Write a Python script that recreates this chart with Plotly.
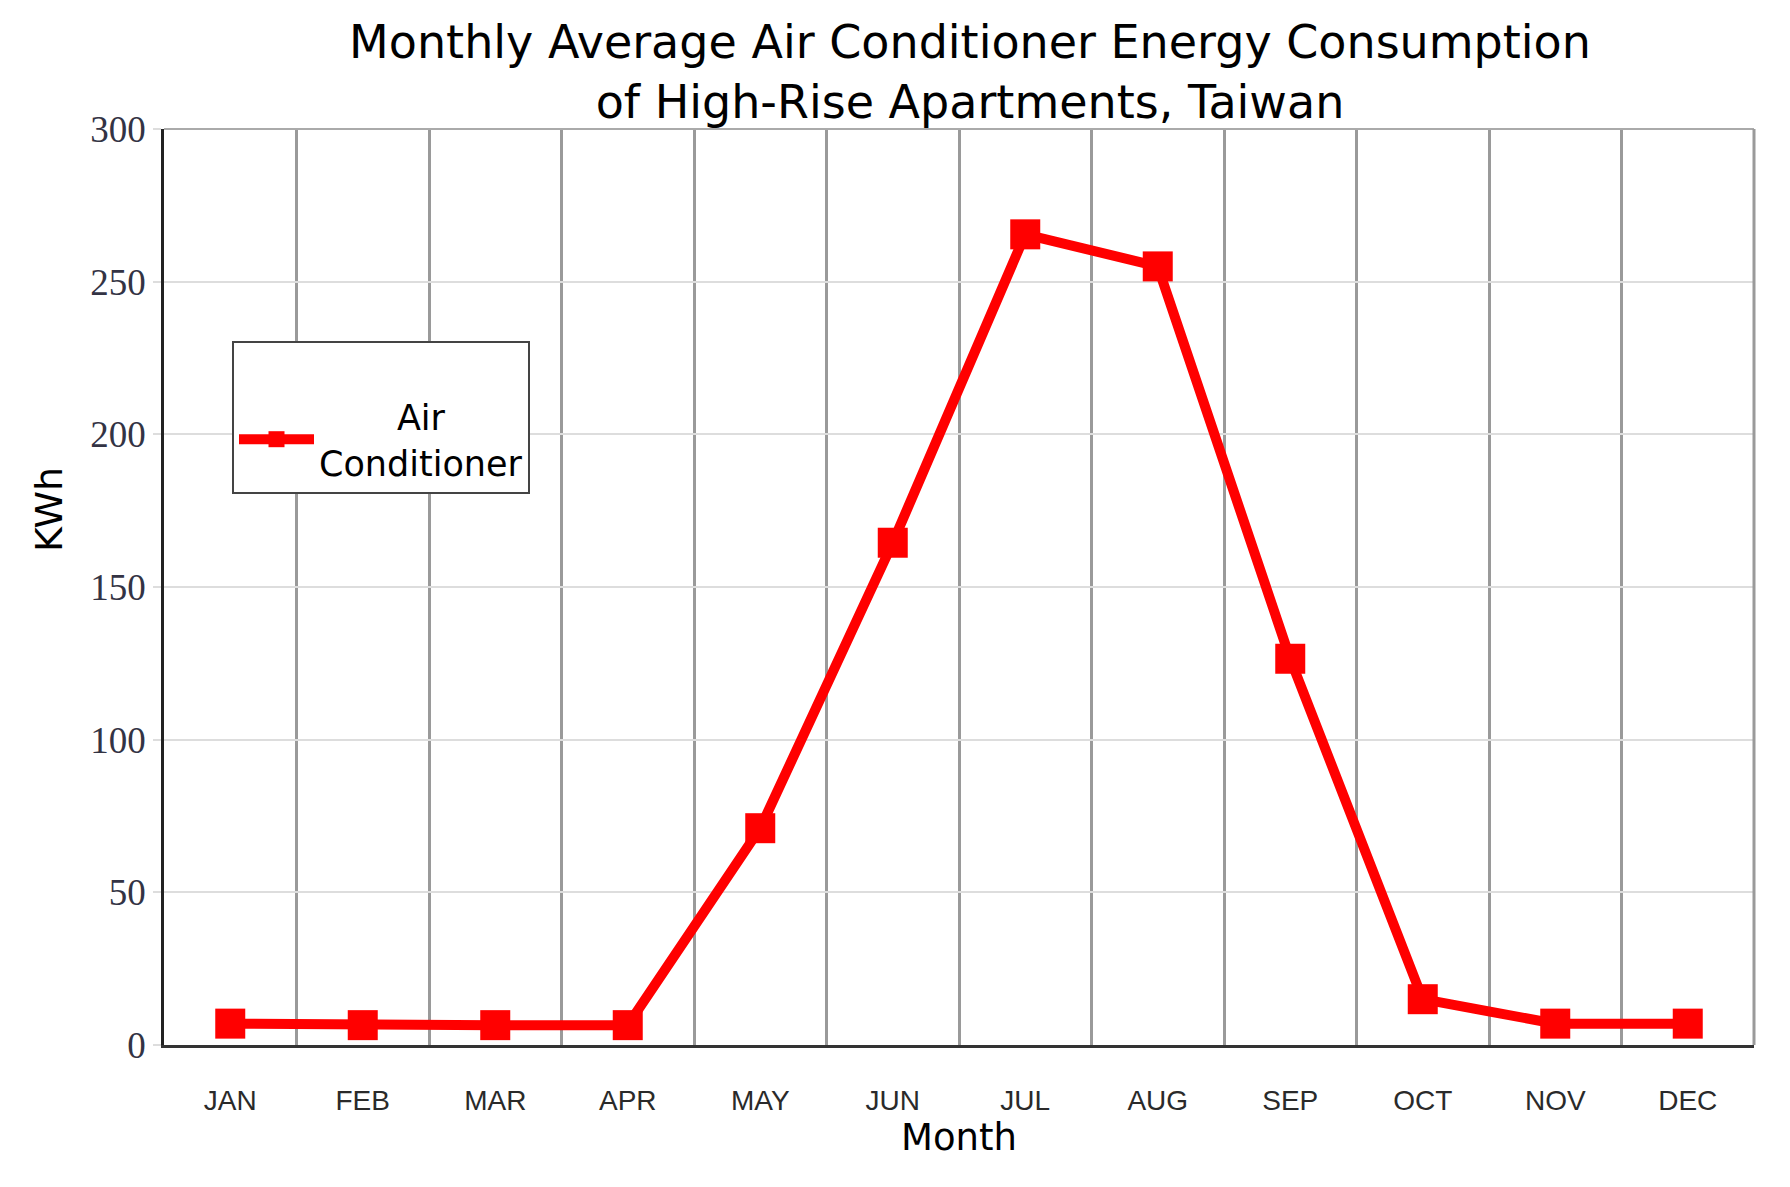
import plotly.graph_objects as go

months = ["JAN", "FEB", "MAR", "APR", "MAY", "JUN", "JUL", "AUG", "SEP", "OCT", "NOV", "DEC"]
kwh = [7.0, 6.5, 6.5, 6.5, 71.0, 164.5, 265.5, 255.0, 126.5, 15.0, 7.0, 7.0]
series_name = "\u00a0\u00a0\u00a0\u00a0\u00a0\u00a0\u00a0Air<br>Conditioner"
y_ticks = [0, 50, 100, 150, 200, 250, 300]

fig = go.Figure()
fig.add_trace(go.Scatter(
    x=months, y=kwh, mode="lines+markers", name=series_name,
    line=dict(color="#ff0000", width=10),
    marker=dict(symbol="square", size=30, color="#ff0000", line=dict(width=0)),
    showlegend=True,
))

fig.update_layout(
    width=1790, height=1187,
    margin=dict(l=156, r=44, t=121, b=150),
    paper_bgcolor="white", plot_bgcolor="white",
    title=dict(
        text="Monthly Average Air Conditioner Energy Consumption<br>of High-Rise Apartments, Taiwan",
        font=dict(family="DejaVu Sans", size=46, color="black"),
        x=0.5 + 11 / 1590, xref="paper", xanchor="center",
        y=1 - 50 / 1187, yref="container", yanchor="middle",
    ),
    xaxis=dict(
        type="category", categoryorder="array", categoryarray=months,
        range=[-0.5, 11.5], tickson="boundaries",
        showgrid=True, gridcolor="#9a9a9a", gridwidth=3,
        showline=True, linecolor="#333333", linewidth=3,
        ticks="", ticklabelstandoff=28,
        tickfont=dict(family="Liberation Sans", size=28, color="#2a2a2a"),
        title=dict(text="Month", font=dict(family="DejaVu Sans", size=37, color="black"), standoff=8),
        zeroline=False,
    ),
    yaxis=dict(
        range=[0, 300], tickvals=y_ticks,
        showgrid=True, gridcolor="#dddddd", gridwidth=1.5,
        showline=True, linecolor="#222222", linewidth=2.5,
        ticks="outside", ticklen=8, tickcolor="#dddddd", tickwidth=1.5,
        tickfont=dict(family="Liberation Serif", size=37, color="#333344"),
        zeroline=False,
    ),
    annotations=[
        dict(text="KWh", xref="paper", yref="paper", x=0, y=0.584, xshift=-115,
             xanchor="center", yanchor="middle", textangle=-90, showarrow=False,
             font=dict(family="DejaVu Sans", size=38, color="black")),
    ],
    legend=dict(
        x=68 / 1590, y=1 - 212 / 916, xanchor="left", yanchor="top",
        bordercolor="#444444", borderwidth=2, bgcolor="white",
        font=dict(family="DejaVu Sans", size=35, color="black"),
        itemwidth=75,
        title=dict(text="\u00a0", font=dict(size=34)),
    ),
    shapes=[
        dict(type="line", xref="paper", yref="paper", x0=0, x1=1, y0=1, y1=1,
             line=dict(color="#aaaaaa", width=2)),
        dict(type="line", xref="paper", yref="paper", x0=1, x1=1, y0=0, y1=1,
             line=dict(color="#9a9a9a", width=3)),
    ],
)

fig.write_html("out.html")
